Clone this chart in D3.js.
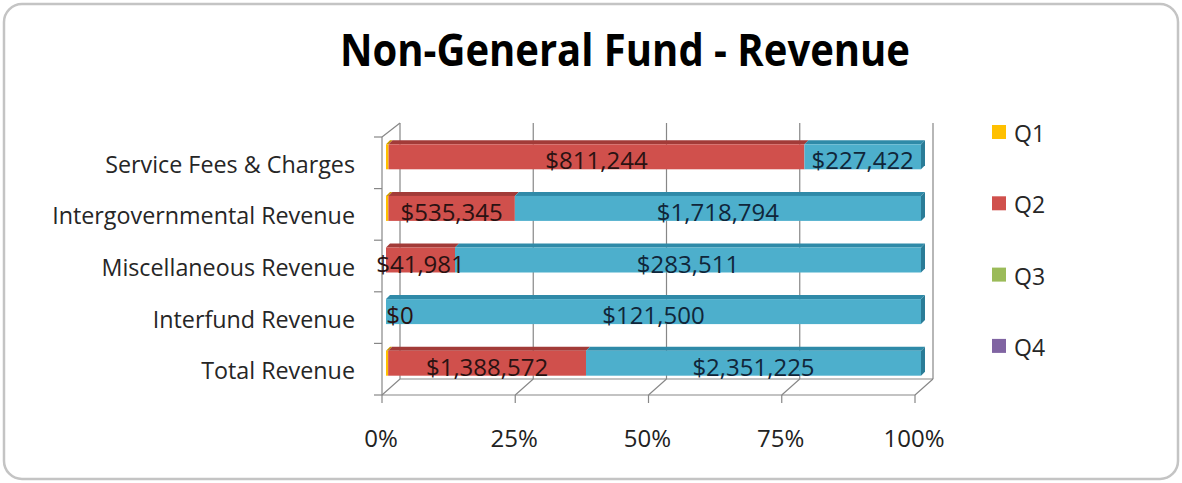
<!DOCTYPE html>
<html>
<head>
<meta charset="utf-8">
<script src="https://cdn.jsdelivr.net/npm/d3@7"></script>
<style>
  body { margin: 0; background: #fff; }
  svg text { font-family: "Open Sans", "Noto Sans", sans-serif; }
</style>
</head>
<body>
<div id="chart"></div>
<script>
// Values
const categories = ["Service Fees & Charges", "Intergovernmental Revenue", "Miscellaneous Revenue", "Interfund Revenue", "Total Revenue"];
const q1 = [5000, 10000, 0, 0, 15000];
const q2 = [811244, 535345, 41981, 0, 1388572];
const q3 = [0, 0, 0, 0, 0];
const q4 = [0, 0, 0, 0, 0];
const remaining = [227422, 1718794, 283511, 121500, 2351225];
const tickValues = [0, 0.25, 0.5, 0.75, 1];
const tickLabels = ["0%", "25%", "50%", "75%", "100%"];

const seriesKeys = ["Q1", "Q2", "Q3", "Q4", "Remaining"];
const legendKeys = ["Q1", "Q2", "Q3", "Q4"];
const labelled = ["Q2", "Remaining"];

const width = 1182, height = 483;

const color = d3.scaleOrdinal()
    .domain(seriesKeys)
    .range(["#FFC000", "#D0504C", "#9BBB59", "#8064A2", "#4DAFCC"]);
const topColor = d3.scaleOrdinal()
    .domain(seriesKeys)
    .range(["#C99700", "#A23B38", "#76903F", "#5F4A7C", "#2F8AA8"]);

// build table
const data = categories.map((c, i) => {
    const row = {cat: c, Q1: q1[i], Q2: q2[i], Q3: q3[i], Q4: q4[i], Remaining: remaining[i]};
    const total = seriesKeys.reduce((a, k) => a + row[k], 0);
    seriesKeys.forEach(k => row["p_" + k] = row[k] / total);
    return row;
});

const svg = d3.select("#chart").append("svg")
    .attr("width", width)
    .attr("height", height);

// outer frame
svg.append("rect")
    .attr("x", 4).attr("y", 4)
    .attr("width", width - 8).attr("height", height - 8)
    .attr("rx", 18)
    .attr("fill", "#fff")
    .attr("stroke", "#c4c4c4")
    .attr("stroke-width", 2.5);

// title
svg.append("text")
    .attr("x", 625)
    .attr("y", 66)
    .attr("text-anchor", "middle")
    .attr("textLength", 570)
    .attr("lengthAdjust", "spacingAndGlyphs")
    .style("font-size", "44px")
    .style("font-weight", "bold")
    .attr("fill", "#000")
    .text("Non-General Fund - Revenue");

// scales: front plane, back wall, bar face
const depth = {dx: 18, dy: -16};
const frontX = d3.scaleLinear().domain([0, 1]).range([382, 915]);
const backX = d3.scaleLinear().domain([0, 1]).range([382 + depth.dx, 915 + depth.dx]);
const barX = d3.scaleLinear().domain([0, 1]).range([386, 921]);
const y = d3.scaleBand().domain(categories).range([137, 395]).padding(0);

const floorY = 395, backBottom = floorY + depth.dy, backTop = 123;
const gridColor = "#878787";

const grid = svg.append("g")
    .attr("stroke", gridColor)
    .attr("stroke-width", 1.2)
    .attr("fill", "none");

// back wall gridlines
grid.selectAll("line.back")
    .data(tickValues)
    .enter().append("line")
    .attr("x1", d => backX(d)).attr("x2", d => backX(d))
    .attr("y1", backTop).attr("y2", backBottom);

// floor
grid.append("line")
    .attr("x1", frontX(0)).attr("x2", frontX(1))
    .attr("y1", floorY).attr("y2", floorY);
grid.append("line")
    .attr("x1", backX(0)).attr("x2", backX(1))
    .attr("y1", backBottom).attr("y2", backBottom);
grid.selectAll("line.diag")
    .data(tickValues)
    .enter().append("line")
    .attr("x1", d => frontX(d)).attr("y1", floorY)
    .attr("x2", d => backX(d)).attr("y2", backBottom);
grid.selectAll("line.tick")
    .data(tickValues)
    .enter().append("line")
    .attr("x1", d => frontX(d)).attr("x2", d => frontX(d))
    .attr("y1", floorY).attr("y2", floorY + 8);

// left wall
const wallTop = y.range()[0];
grid.append("line")
    .attr("x1", frontX(0)).attr("x2", frontX(0))
    .attr("y1", wallTop).attr("y2", floorY);
grid.append("line")
    .attr("x1", frontX(0)).attr("y1", wallTop)
    .attr("x2", backX(0)).attr("y2", backTop);
const boundaries = categories.map(c => y(c)).concat([floorY]);
grid.selectAll("line.ytick")
    .data(boundaries)
    .enter().append("line")
    .attr("x1", frontX(0) - 8).attr("x2", frontX(0))
    .attr("y1", d => d).attr("y2", d => d);

// x tick labels
svg.append("g").selectAll("text")
    .data(tickValues)
    .enter().append("text")
    .attr("x", d => frontX(d) - 1)
    .attr("y", 437)
    .attr("text-anchor", "middle")
    .attr("dominant-baseline", "central")
    .style("font-size", "24px")
    .attr("fill", "#222")
    .text((d, i) => tickLabels[i]);

// category labels
svg.append("g").selectAll("text")
    .data(categories)
    .enter().append("text")
    .attr("x", 355)
    .attr("y", d => y(d) + y.bandwidth() / 2 + 1)
    .attr("text-anchor", "end")
    .attr("dominant-baseline", "central")
    .style("font-size", "23.3px")
    .attr("fill", "#262626")
    .text(d => d);

// bars
const barH = 25, tdx = 4, tdy = -4, faceShift = -6;
const stacked = d3.stack().keys(seriesKeys.map(k => "p_" + k))(data);

const bars = svg.append("g");
data.forEach((row, i) => {
    const cy = y(row.cat) + y.bandwidth() / 2 + faceShift;
    const top = cy - barH / 2, bottom = cy + barH / 2;
    const segs = stacked.map((layer, j) => ({key: seriesKeys[j], x0: layer[i][0], x1: layer[i][1], row}))
        .filter(s => s.x1 - s.x0 > 0);

    // top faces
    bars.selectAll(null)
        .data(segs)
        .enter().append("polygon")
        .attr("points", s => [
            [barX(s.x0), top], [barX(s.x1), top],
            [barX(s.x1) + tdx, top + tdy], [barX(s.x0) + tdx, top + tdy]
        ].join(" "))
        .attr("fill", s => topColor(s.key));

    // front faces
    bars.selectAll(null)
        .data(segs)
        .enter().append("rect")
        .attr("x", s => barX(s.x0))
        .attr("y", top)
        .attr("width", s => barX(s.x1) - barX(s.x0))
        .attr("height", barH)
        .attr("fill", s => color(s.key));

    // right end face
    const last = segs[segs.length - 1];
    bars.append("polygon")
        .attr("points", [
            [barX(last.x1), top], [barX(last.x1) + tdx, top + tdy],
            [barX(last.x1) + tdx, bottom + tdy], [barX(last.x1), bottom]
        ].join(" "))
        .attr("fill", d3.color(topColor(last.key)).darker(0.3));

    // data labels
    const labs = stacked.map((layer, j) => ({key: seriesKeys[j], x0: layer[i][0], x1: layer[i][1], v: row[seriesKeys[j]]}))
        .filter(s => labelled.includes(s.key));
    bars.selectAll(null)
        .data(labs)
        .enter().append("text")
        .attr("x", s => Math.max((barX(s.x0) + barX(s.x1)) / 2, barX(s.x0) + 14))
        .attr("y", cy + 3)
        .attr("text-anchor", "middle")
        .attr("dominant-baseline", "central")
        .style("font-size", "24px")
        .attr("fill", s => s.key === "Q2" ? "#2a1212" : "#10263a")
        .text(s => "$" + d3.format(",")(s.v));
});

// legend
const legend = svg.append("g")
    .selectAll("g")
    .data(legendKeys)
    .enter().append("g")
    .attr("transform", (d, i) => `translate(992, ${132 + i * 71.3})`);

legend.append("rect")
    .attr("x", 0).attr("y", -7)
    .attr("width", 14).attr("height", 14)
    .attr("fill", d => color(d));

legend.append("text")
    .attr("x", 22)
    .attr("y", 1)
    .attr("dominant-baseline", "central")
    .style("font-size", "23px")
    .attr("fill", "#262626")
    .text(d => d);
</script>
</body>
</html>
